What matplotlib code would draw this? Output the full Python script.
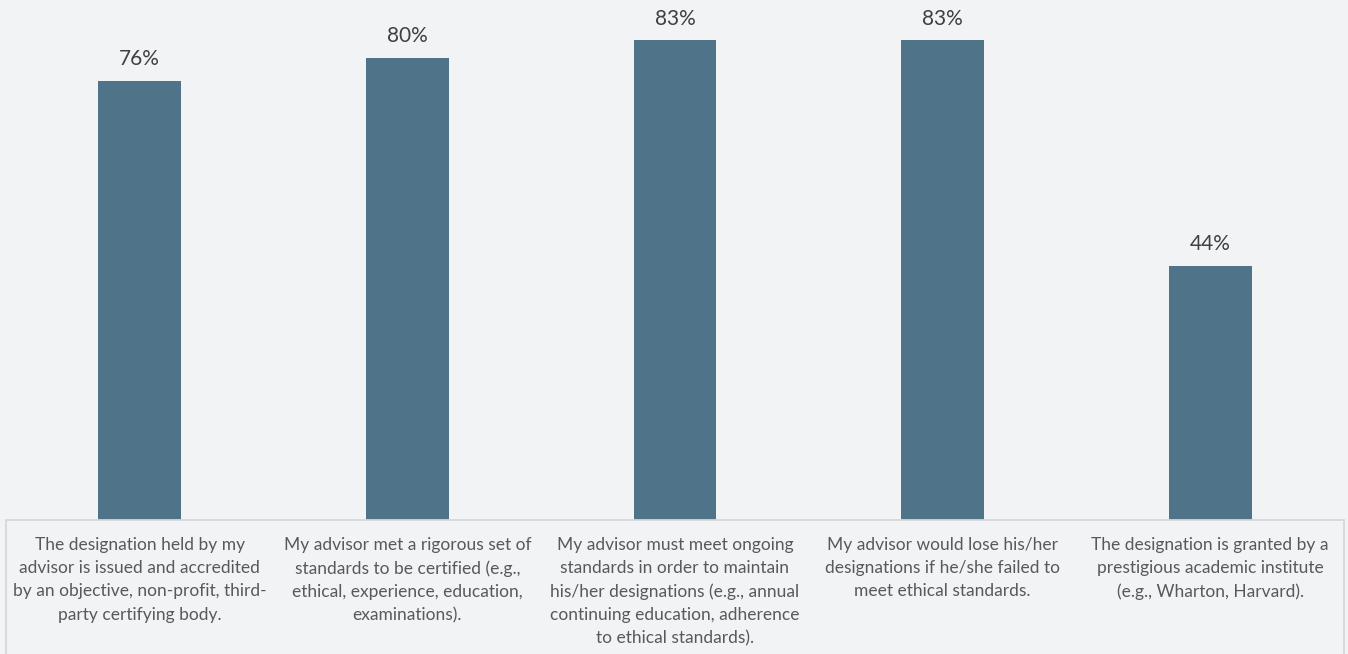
import matplotlib
matplotlib.use("Agg")
import matplotlib.pyplot as plt
from matplotlib.patches import Rectangle

plt.rcParams['font.family'] = ['Lato', 'DejaVu Sans']

categories = [
    "The designation held by my\nadvisor is issued and accredited\nby an objective, non-profit, third-\nparty certifying body.",
    "My advisor met a rigorous set of\nstandards to be certified (e.g.,\nethical, experience, education,\nexaminations).",
    "My advisor must meet ongoing\nstandards in order to maintain\nhis/her designations (e.g., annual\ncontinuing education, adherence\nto ethical standards).",
    "My advisor would lose his/her\ndesignations if he/she failed to\nmeet ethical standards.",
    "The designation is granted by a\nprestigious academic institute\n(e.g., Wharton, Harvard).",
]
values = [76, 80, 83, 83, 44]

bg = "#f2f3f5"
bar_color = "#4f7489"

fig = plt.figure(figsize=(13.48, 6.54), dpi=100, facecolor=bg)
# plot area spans from the top of the figure down to the category box
ax = fig.add_axes([6 / 1348, 134 / 654, 1338 / 1348, 520 / 654])
ax.set_facecolor(bg)

x = range(len(values))
bars = ax.bar(x, values, width=0.31, color=bar_color, zorder=2)
for b, v in zip(bars, values):
    ax.text(b.get_x() + b.get_width() / 2, v + 2.0, f"{v}%", ha="center", va="bottom",
            fontsize=15, color="#404040")

ax.set_xlim(-0.5, len(values) - 0.5)
ax.set_ylim(0, 90)
ax.set_xticks([])
ax.set_yticks([])
for s in ax.spines.values():
    s.set_visible(False)

# box around the category labels
box = Rectangle((6 / 1348, -0.01), 1338 / 1348, 134 / 654 + 0.01, transform=fig.transFigure,
                facecolor="none", edgecolor="#d5d7da", linewidth=1.3, clip_on=False)
fig.add_artist(box)

for i, label in enumerate(categories):
    ax.annotate(label, xy=(i, 0), xycoords="data", xytext=(0, -12), textcoords="offset points",
                ha="center", va="top", fontsize=12.5, color="#595959", linespacing=1.56)

fig.savefig("out.png", dpi=100, facecolor=bg)
